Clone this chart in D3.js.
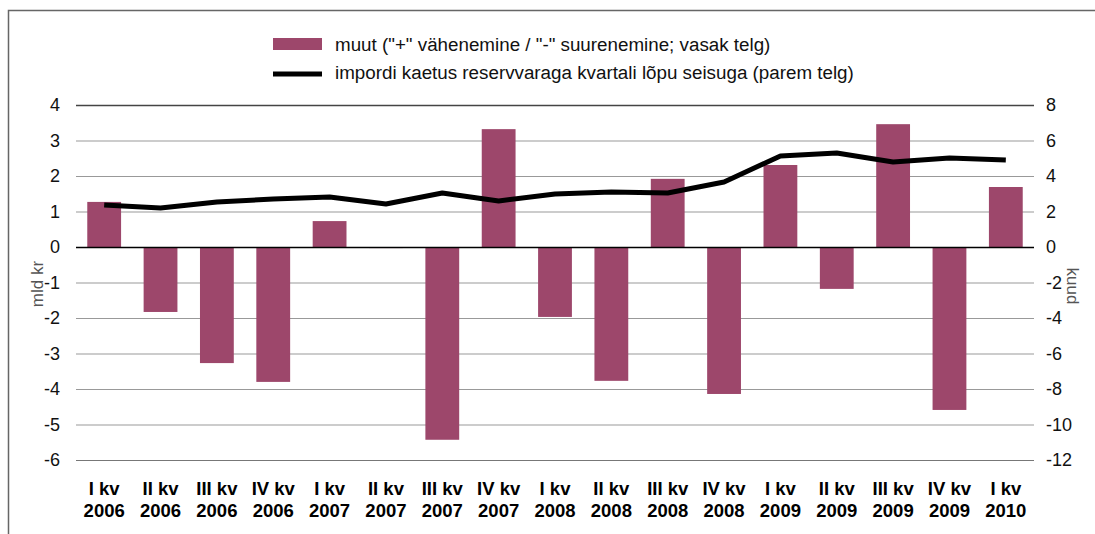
<!DOCTYPE html>
<html>
<head>
<meta charset="utf-8">
<script src="https://cdn.jsdelivr.net/npm/d3@7"></script>
<style>
  body { margin: 0; background: #fff; }
  svg text { font-family: "Liberation Sans", Arial, Helvetica, sans-serif; }
</style>
</head>
<body>
<div id="chart"></div>
<script>
// quarters, two-line labels
const quarters = ["I kv", "II kv", "III kv", "IV kv", "I kv", "II kv", "III kv", "IV kv",
    "I kv", "II kv", "III kv", "IV kv", "I kv", "II kv", "III kv", "IV kv", "I kv"];
const years = ["2006", "2006", "2006", "2006", "2007", "2007", "2007", "2007",
    "2008", "2008", "2008", "2008", "2009", "2009", "2009", "2009", "2010"];

// muut (left axis, mld kr)
const muut = [1.27, -1.83, -3.27, -3.8, 0.73, -0.03, -5.43, 3.32,
    -1.97, -3.77, 1.92, -4.14, 2.31, -1.18, 3.46, -4.59, 1.69];

// impordi kaetus (right axis, kuud)
const kaetus = [2.37, 2.2, 2.54, 2.7, 2.82, 2.42, 3.04, 2.59,
    2.99, 3.1, 3.04, 3.66, 5.13, 5.3, 4.79, 5.01, 4.9];

const leftTicks = [4, 3, 2, 1, 0, -1, -2, -3, -4, -5, -6];
const rightTicks = [8, 6, 4, 2, 0, -2, -4, -6, -8, -10, -12];

const legendLabels = [
    'muut ("+" vähenemine / "-" suurenemine; vasak telg)',
    'impordi kaetus reservvaraga kvartali lõpu seisuga (parem telg)'
];

let width = 1095, height = 534;
let margin = {left: 76, right: 61, top: 105, bottom: 74};

let svg = d3.select('#chart')
    .append('svg')
    .attr('width', width)
    .attr('height', height);

// outer frame
svg.append('rect')
    .attr('x', 8.5).attr('y', 10.5)
    .attr('width', 1200).attr('height', 700)
    .attr('fill', 'none')
    .attr('stroke', '#666')
    .attr('stroke-width', 1.5);

let keys = quarters.map((q, i) => i);

let x = d3.scaleBand()
    .domain(keys)
    .range([margin.left, width - margin.right])
    .paddingInner(0.4)
    .paddingOuter(0.2);

let yL = d3.scaleLinear()
    .domain([-6, 4])
    .range([height - margin.bottom, margin.top]);

let yR = d3.scaleLinear()
    .domain([-12, 8])
    .range([height - margin.bottom, margin.top]);

// gridlines
svg.append('g')
    .selectAll('line')
    .data(leftTicks)
    .enter().append('line')
    .attr('x1', margin.left)
    .attr('x2', width - margin.right)
    .attr('y1', d => yL(d) + 0.5)
    .attr('y2', d => yL(d) + 0.5)
    .attr('stroke', d => d === 4 ? '#444' : (d === -6 ? '#777' : '#999'))
    .attr('stroke-width', d => d === 4 ? 1.3 : 1.2);

// bars
svg.append('g')
    .selectAll('rect')
    .data(muut)
    .enter().append('rect')
    .attr('x', (d, i) => x(i))
    .attr('width', x.bandwidth())
    .attr('y', d => yL(Math.max(0, d)))
    .attr('height', d => Math.max(1, Math.abs(yL(d) - yL(0))))
    .attr('fill', '#9d476b');

// zero line
svg.append('line')
    .attr('x1', margin.left)
    .attr('x2', width - margin.right)
    .attr('y1', yL(0) + 0.5)
    .attr('y2', yL(0) + 0.5)
    .attr('stroke', '#000')
    .attr('stroke-width', 1.5);

// line series
let line = d3.line()
    .x((d, i) => x(i) + x.bandwidth() / 2)
    .y(d => yR(d));

svg.append('path')
    .datum(kaetus)
    .attr('d', line)
    .attr('fill', 'none')
    .attr('stroke', '#000')
    .attr('stroke-width', 5)
    .attr('stroke-linejoin', 'round');

// left axis labels
let axisL = d3.axisLeft(yL).tickValues(leftTicks).tickFormat(d => String(d))
    .tickSize(0).tickPadding(16);
let gL = svg.append('g')
    .attr('transform', 'translate(' + margin.left + ',0)')
    .call(axisL);
gL.select('.domain').remove();
gL.selectAll('text')
    .attr('font-size', 18)
    .attr('fill', '#111')
    .style('font-family', '"Liberation Sans", Arial, sans-serif');

// right axis labels
let axisR = d3.axisRight(yR).tickValues(rightTicks).tickFormat(d => String(d))
    .tickSize(0).tickPadding(12);
let gR = svg.append('g')
    .attr('transform', 'translate(' + (width - margin.right) + ',0)')
    .call(axisR);
gR.select('.domain').remove();
gR.selectAll('text')
    .attr('font-size', 18)
    .attr('fill', '#111')
    .style('font-family', '"Liberation Sans", Arial, sans-serif');

// axis titles
svg.append('text')
    .attr('transform', 'translate(43,284) rotate(-90)')
    .attr('text-anchor', 'middle')
    .attr('font-size', 17)
    .attr('fill', '#555')
    .text('mld kr');

svg.append('text')
    .attr('transform', 'translate(1067,286) rotate(90)')
    .attr('text-anchor', 'middle')
    .attr('font-size', 17)
    .attr('fill', '#555')
    .text('kuud');

// x labels
let xl = svg.append('g')
    .selectAll('text')
    .data(keys)
    .enter().append('text')
    .attr('x', i => x(i) + x.bandwidth() / 2)
    .attr('text-anchor', 'middle')
    .attr('font-size', 18.5)
    .attr('font-weight', 'bold')
    .attr('fill', '#000');
xl.append('tspan')
    .attr('x', i => x(i) + x.bandwidth() / 2)
    .attr('y', 495)
    .text(i => quarters[i]);
xl.append('tspan')
    .attr('x', i => x(i) + x.bandwidth() / 2)
    .attr('y', 517)
    .text(i => years[i]);

// legend
let legend = svg.append('g');
legend.append('rect')
    .attr('x', 273).attr('y', 38)
    .attr('width', 49).attr('height', 12)
    .attr('fill', '#9d476b');
legend.append('line')
    .attr('x1', 273).attr('x2', 322)
    .attr('y1', 74).attr('y2', 74)
    .attr('stroke', '#000')
    .attr('stroke-width', 5);
legend.selectAll('text.leg')
    .data(legendLabels)
    .enter().append('text')
    .attr('class', 'leg')
    .attr('x', 335)
    .attr('y', (d, i) => 51 + i * 28)
    .attr('font-size', 18.8)
    .attr('fill', '#111')
    .text(d => d);
</script>
</body>
</html>
